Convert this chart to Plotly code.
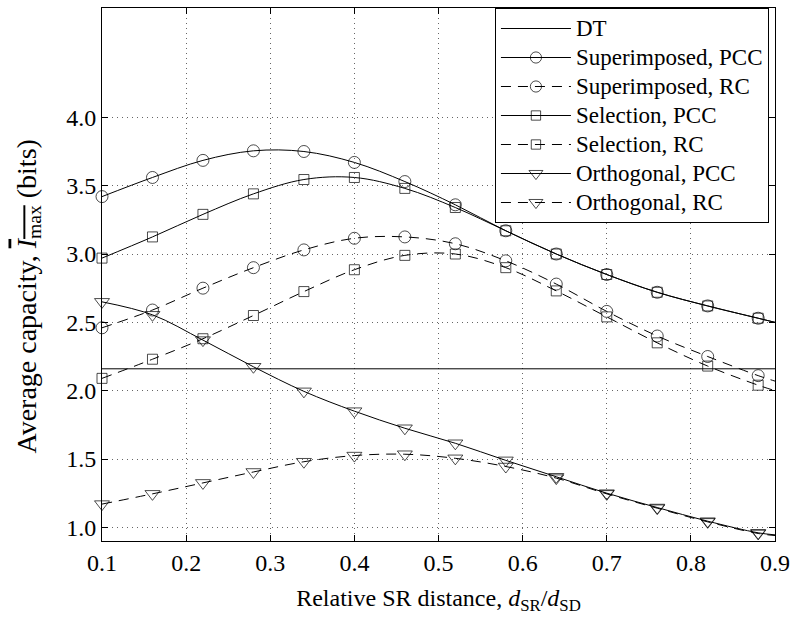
import plotly.graph_objects as go

# Relative SR distance at the marker positions, plus the right edge of the curves
dist = [0.10, 0.16, 0.22, 0.28, 0.34, 0.40, 0.46, 0.52, 0.58, 0.64, 0.70, 0.76, 0.82, 0.88]
dist_end = 0.90

# Average capacity (bits)
dt_capacity = 2.16
sup_pcc = [3.42, 3.56, 3.685, 3.755, 3.75, 3.67, 3.53, 3.36, 3.17, 3.00, 2.85, 2.72, 2.62, 2.53]
sup_rc = [2.46, 2.59, 2.75, 2.90, 3.03, 3.115, 3.125, 3.075, 2.95, 2.78, 2.58, 2.40, 2.25, 2.11]
sel_pcc = [2.97, 3.125, 3.29, 3.44, 3.545, 3.56, 3.48, 3.34, 3.17, 3.00, 2.85, 2.72, 2.62, 2.53]
sel_rc = [2.09, 2.23, 2.38, 2.55, 2.725, 2.885, 2.99, 3.00, 2.90, 2.73, 2.54, 2.35, 2.18, 2.04]
orth_pcc = [2.65, 2.555, 2.37, 2.175, 1.995, 1.85, 1.725, 1.615, 1.49, 1.37, 1.25, 1.145, 1.045, 0.96]
orth_rc = [1.17, 1.245, 1.325, 1.405, 1.48, 1.525, 1.535, 1.505, 1.445, 1.36, 1.245, 1.14, 1.04, 0.955]
end_values = {
    "sup_pcc": 2.50, "sup_rc": 2.07, "sel_pcc": 2.50,
    "sel_rc": 2.00, "orth_pcc": 0.945, "orth_rc": 0.94,
}

x_ticks = [0.1, 0.2, 0.3, 0.4, 0.5, 0.6, 0.7, 0.8, 0.9]
y_ticks = [1.0, 1.5, 2.0, 2.5, 3.0, 3.5, 4.0]

FONT = "Liberation Serif"
DASH = "10px,7px"


def legend_label(text):
    # larger glyphs than the legend's row pitch would give on its own
    return '<span style="font-size:23px">' + text + "</span>"


fig = go.Figure()

fig.add_trace(go.Scatter(
    x=[dist[0], dist_end], y=[dt_capacity, dt_capacity],
    mode="lines", name=legend_label("DT"),
    line=dict(color="black", width=1),
))

series = [
    ("Superimposed, PCC", sup_pcc, "sup_pcc", "circle-open", "solid", 12),
    ("Superimposed, RC", sup_rc, "sup_rc", "circle-open", DASH, 12),
    ("Selection, PCC", sel_pcc, "sel_pcc", "square-open", "solid", 10),
    ("Selection, RC", sel_rc, "sel_rc", "square-open", DASH, 10),
    ("Orthogonal, PCC", orth_pcc, "orth_pcc", "triangle-down-open", "solid", 13),
    ("Orthogonal, RC", orth_rc, "orth_rc", "triangle-down-open", DASH, 13),
]

for name, vals, key, symbol, dash, msize in series:
    xs = dist + [dist_end]
    ys = vals + [end_values[key]]
    sizes = [msize] * len(dist) + [0]
    fig.add_trace(go.Scatter(
        x=xs, y=ys, name=legend_label(name),
        mode="lines+markers",
        line=dict(color="black", width=1, dash=dash, shape="spline", smoothing=1.0),
        marker=dict(symbol=symbol, size=sizes, color="black",
                    line=dict(color="black", width=1)),
        cliponaxis=False,
    ))

axis_common = dict(
    showline=True, linecolor="black", linewidth=1, mirror="ticks",
    ticks="inside", ticklen=6, tickwidth=1, tickcolor="black",
    showgrid=True, gridcolor="#666666", gridwidth=1, griddash="1px,4px",
    zeroline=False,
    tickfont=dict(family=FONT, size=24, color="black"),
)

fig.update_xaxes(
    range=[0.1, 0.9], tickvals=x_ticks, tickformat=".1f",
    title=dict(
        text="Relative SR distance, <i>d</i><sub>SR</sub>/<i>d</i><sub>SD</sub>",
        font=dict(family=FONT, size=24, color="black"), standoff=14,
    ),
    **axis_common,
)
fig.update_yaxes(
    range=[0.9, 4.8], tickvals=y_ticks, tickformat=".1f",
    **axis_common,
)

# y-axis title, placed as a rotated annotation left of the tick labels
fig.add_annotation(
    text='Average capacity, <span style="text-decoration:overline"><i>I</i><sub>max</sub></span> (bits)',
    xref="paper", yref="paper", x=0, y=0.5,
    xanchor="center", yanchor="middle", xshift=-74, yshift=-22,
    textangle=-90, showarrow=False,
    font=dict(family=FONT, size=28, color="black"),
)

fig.update_layout(
    width=797, height=620,
    margin=dict(l=102, r=18, t=7, b=79),
    paper_bgcolor="white", plot_bgcolor="white",
    font=dict(family=FONT, color="black"),
    legend=dict(
        x=0.991, xanchor="right", y=1.0, yanchor="top",
        bgcolor="white", bordercolor="black", borderwidth=1,
        font=dict(family=FONT, size=20, color="black"),
        itemwidth=70, tracegroupgap=0,
    ),
)

fig.write_html("out.html")
